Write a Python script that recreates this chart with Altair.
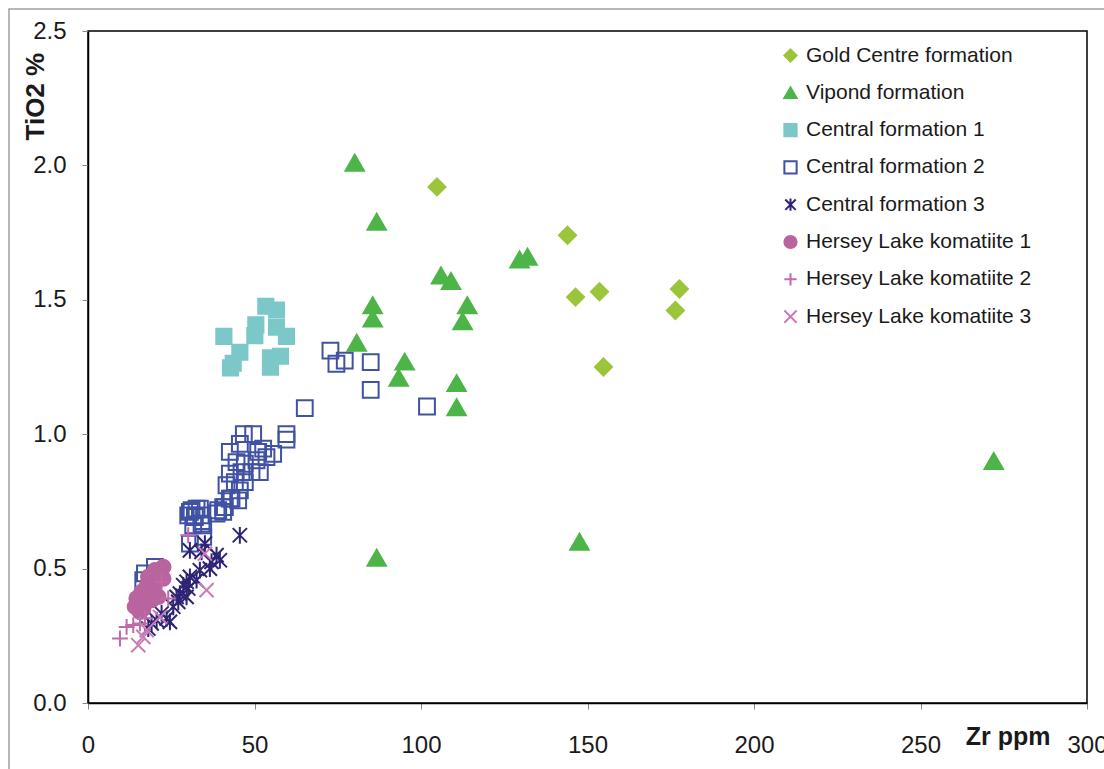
import altair as alt
import pandas as pd

series = [
    "Gold Centre formation",
    "Vipond formation",
    "Central formation 1",
    "Central formation 2",
    "Central formation 3",
    "Hersey Lake komatiite 1",
    "Hersey Lake komatiite 2",
    "Hersey Lake komatiite 3",
]

gold_zr = [104.8, 144.0, 146.4, 153.6, 154.8, 176.4, 177.6]
gold_ti = [1.92, 1.74, 1.51, 1.53, 1.25, 1.46, 1.54]

vipond_zr = [80.1, 86.7, 106.0, 109.0, 129.6, 132.0, 85.5, 85.5, 113.9, 112.5, 80.7, 95.1, 93.3, 110.7, 110.7, 86.7, 147.6, 272.0]
vipond_ti = [2.01, 1.79, 1.59, 1.57, 1.65, 1.66, 1.48, 1.43, 1.48, 1.42, 1.34, 1.27, 1.21, 1.19, 1.10, 0.54, 0.60, 0.90]

c1_zr = [53.4, 56.6, 50.4, 56.6, 59.6, 50.1, 40.8, 45.6, 43.6, 42.8, 54.8, 54.8, 57.8]
c1_ti = [1.476, 1.462, 1.407, 1.398, 1.364, 1.367, 1.364, 1.305, 1.264, 1.247, 1.284, 1.249, 1.29]

c2_zr = [72.8, 74.6, 77.1, 84.9, 84.9, 101.8, 65.1,
         46.8, 49.6, 59.6, 59.6, 42.6, 45.6, 51.1, 52.6, 55.6, 44.6, 47.1, 50.6, 53.6,
         42.6, 46.1, 49.1, 51.6, 44.1, 47.1, 41.6, 45.6, 43.1, 40.6, 39.1, 38.6,
         31.1, 32.6, 30.1, 32.1, 34.1, 31.6, 34.6, 30.6, 33.6, 34.1, 30.6, 34.6,
         41.1, 40.6, 45.1, 42.6, 17.1, 20.1, 16.6]
c2_ti = [1.311, 1.262, 1.274, 1.268, 1.165, 1.103, 1.097,
         1.0, 1.0, 1.0, 0.98, 0.934, 0.964, 0.934, 0.946, 0.927, 0.896, 0.89, 0.903, 0.915,
         0.853, 0.859, 0.859, 0.859, 0.822, 0.822, 0.81, 0.791, 0.76, 0.729, 0.717, 0.705,
         0.717, 0.723, 0.698, 0.692, 0.698, 0.661, 0.661, 0.711, 0.723, 0.667, 0.593, 0.618,
         0.729, 0.711, 0.754, 0.76, 0.482, 0.506, 0.457]

c3_zr = [45.6, 30.6, 35.1, 34.1, 38.6, 39.6, 37.1, 36.6, 33.6, 30.6, 29.6, 28.6, 30.1,
         27.6, 29.6, 27.1, 25.6, 22.1, 23.6, 20.6, 19.1, 18.1, 24.6, 32.6, 26.6]
c3_ti = [0.624, 0.568, 0.593, 0.562, 0.55, 0.531, 0.525, 0.5, 0.494, 0.469, 0.451, 0.438, 0.426,
         0.407, 0.395, 0.376, 0.358, 0.333, 0.315, 0.308, 0.296, 0.277, 0.302, 0.457, 0.395]

h1_zr = [22.6, 20.1, 18.1, 17.6, 16.1, 14.6, 14.1, 16.6, 19.1, 21.1, 19.6, 22.6, 21.1, 15.6]
h1_ti = [0.506, 0.494, 0.469, 0.432, 0.413, 0.389, 0.358, 0.351, 0.383, 0.395, 0.432, 0.463, 0.476, 0.339]

h2_zr = [9.6, 11.6, 13.6, 15.6, 17.1, 24.1, 22.1, 30.1]
h2_ti = [0.24, 0.283, 0.29, 0.296, 0.315, 0.389, 0.451, 0.624]

h3_zr = [15.1, 16.6, 21.6, 35.6, 35.1, 17.6]
h3_ti = [0.215, 0.246, 0.32, 0.42, 0.556, 0.271]

x_ticks = [0, 50, 100, 150, 200, 250, 300]
y_ticks = [0.0, 0.5, 1.0, 1.5, 2.0, 2.5]

stroke_colors = ["#9BC53A", "#4DB548", "#7CC8C8", "#3F52A4", "#2C2475", "#B9649F", "#C06AAA", "#C97CB5"]
fill_colors = ["#9BC53A", "#4DB548", "#7CC8C8", "#ffffff00", "#ffffff00", "#B9649F", "#ffffff00", "#ffffff00"]
shapes = [
    "diamond",
    "triangle-up",
    "square",
    "square",
    "M0,-1L0,1M-0.85,-0.85L0.85,0.85M-0.85,0.85L0.85,-0.85",
    "circle",
    "M-1,0L1,0M0,-1L0,1",
    "M-1,-1L1,1M-1,1L1,-1",
]
sizes = [290, 340, 230, 250, 280, 210, 250, 200]

groups = [
    (gold_zr, gold_ti), (vipond_zr, vipond_ti), (c1_zr, c1_ti), (c2_zr, c2_ti),
    (c3_zr, c3_ti), (h1_zr, h1_ti), (h2_zr, h2_ti), (h3_zr, h3_ti),
]
rows = []
for name, (xs, ys) in zip(series, groups):
    for xv, yv in zip(xs, ys):
        rows.append({"series": name, "zr": xv, "ti": yv})
df = pd.DataFrame(rows)

FONT = "Liberation Sans"

frame = alt.Chart(pd.DataFrame({"a": [0]})).mark_rect(
    fill="#ffffff00", stroke="#a0a0a0", strokeWidth=1.5
).encode(
    x=alt.value(-79), x2=alt.value(1030), y=alt.value(-22), y2=alt.value(760)
)

x_enc = alt.X(
    "zr:Q",
    scale=alt.Scale(domain=[0, 300], nice=False),
    axis=alt.Axis(
        values=x_ticks, format="d", title="Zr ppm", grid=False, labelFlush=False,
        titleX=962, titleY=33, titleAlign="right", titleBaseline="middle",
        titleFontSize=25, titleFontWeight="bold", titleFont=FONT, titleColor="#1a1a1a",
        labelFontSize=24, labelFont=FONT, labelColor="#1a1a1a", labelPadding=24,
        tickSize=6, tickColor="#888", domainColor="#000", domainWidth=1.5,
    ),
)
y_enc = alt.Y(
    "ti:Q",
    scale=alt.Scale(domain=[0, 2.5], nice=False),
    axis=alt.Axis(
        values=y_ticks, format=".1f", title="TiO2 %", grid=False, labelFlush=False,
        titleX=-53, titleY=109, titleAngle=270, titleAlign="left", titleBaseline="middle",
        titleFontSize=26, titleFontWeight="bold", titleFont=FONT, titleColor="#1a1a1a",
        labelFontSize=24, labelFont=FONT, labelColor="#1a1a1a", labelPadding=16,
        tickSize=6, tickColor="#888", domainColor="#000", domainWidth=1.5,
    ),
)
shape_enc = alt.Shape("series:N", sort=series, scale=alt.Scale(domain=series, range=shapes), title=None)
stroke_enc = alt.Stroke("series:N", sort=series, scale=alt.Scale(domain=series, range=stroke_colors), title=None)
fill_enc = alt.Fill("series:N", sort=series, scale=alt.Scale(domain=series, range=fill_colors), title=None)

layers = [frame]
for name, sz in zip(series, sizes):
    layers.append(
        alt.Chart(df).transform_filter(alt.datum.series == name)
        .mark_point(strokeWidth=2, opacity=1, size=sz)
        .encode(x=x_enc, y=y_enc, shape=shape_enc, stroke=stroke_enc, fill=fill_enc)
    )

chart = alt.layer(*layers).properties(
    width=999,
    height=672,
    autosize=alt.AutoSizeParams(type="none"),
    padding={"left": 88, "top": 31, "right": 17, "bottom": 66},
).configure_view(
    stroke="#000", strokeWidth=1.5
).configure_legend(
    orient="none", legendX=692, legendY=14,
    labelFont=FONT, labelFontSize=21, labelColor="#1a1a1a", labelOffset=5,
    symbolSize=150, symbolStrokeWidth=2, rowPadding=15.3, labelLimit=400,
)

chart.save("out.html", embed_options={"renderer": "svg", "actions": False})
